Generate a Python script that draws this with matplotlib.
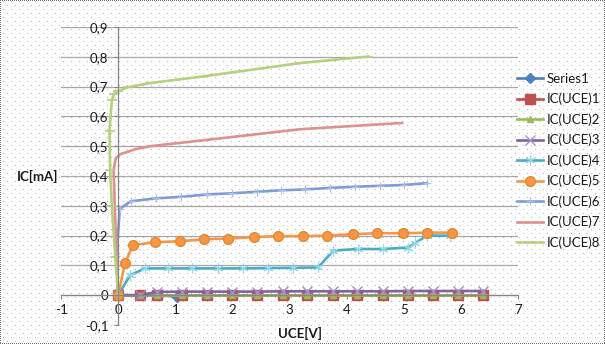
import numpy as np
import matplotlib
matplotlib.use('Agg')
import matplotlib.pyplot as plt
from matplotlib.ticker import FuncFormatter, MultipleLocator

plt.rcParams['font.family'] = ['Lato', 'DejaVu Sans']
plt.rcParams['axes.unicode_minus'] = False

# measured collector characteristics, UCE in V, IC in mA
s1_x = [0, 0.38, 0.68, 1.03]
s1_y = [0, 0, 0, -0.005]

grid_x = [0, 0.38, 0.68, 1.12, 1.56, 2.0, 2.43, 2.88, 3.31, 3.77, 4.19, 4.64, 5.08, 5.52, 5.95, 6.39]
ic1_y = [0] * 16
ic2_y = [0.001] * 16
ic3_y = [0, 0, 0.011, 0.012, 0.012, 0.012, 0.012, 0.013, 0.013, 0.013, 0.013, 0.013, 0.014, 0.014, 0.014, 0.014]

ic4_x = [0, 0.21, 0.47, 0.88, 1.3, 1.75, 2.19, 2.63, 3.07, 3.5, 3.77, 4.2, 4.64, 5.08, 5.2, 5.41, 5.81]
ic4_y = [0, 0.067, 0.09, 0.09, 0.09, 0.09, 0.09, 0.091, 0.092, 0.093, 0.15, 0.155, 0.155, 0.16, 0.175, 0.2, 0.2]

ic5_x = [0, 0.12, 0.26, 0.65, 1.09, 1.51, 1.93, 2.37, 2.79, 3.24, 3.66, 4.12, 4.54, 4.99, 5.41, 5.85]
ic5_y = [0, 0.107, 0.168, 0.178, 0.181, 0.188, 0.19, 0.195, 0.198, 0.198, 0.2, 0.205, 0.208, 0.208, 0.21, 0.21]

ic6_x = [0, -0.03, 0.03, 0.22, 0.66, 1.1, 1.55, 1.99, 2.43, 2.85, 3.27, 3.71, 4.15, 4.59, 5.0, 5.41]
ic6_y = [0, 0.13, 0.29, 0.315, 0.325, 0.33, 0.338, 0.342, 0.347, 0.352, 0.355, 0.36, 0.364, 0.367, 0.37, 0.376]

ic7_x = [0, -0.04, -0.08, -0.04, 0.035, 0.18, 0.3, 0.56, 1.5, 3.19, 4.97]
ic7_y = [0, 0.2, 0.42, 0.46, 0.473, 0.482, 0.49, 0.5, 0.52, 0.557, 0.578]

ic8_x = [0, -0.05, -0.11, -0.14, -0.15, -0.11, -0.07, 0.0, 0.17, 0.56, 1.44, 3.19, 4.38]
ic8_y = [0, 0.128, 0.3, 0.42, 0.55, 0.655, 0.675, 0.685, 0.698, 0.712, 0.733, 0.779, 0.801]

W, H = 605, 344
fig = plt.figure(figsize=(W / 100, H / 100), dpi=100)

# dotted chart-area texture and dashed outer border
bg = np.ones((H, W, 3))
for j in range(1, H, 4):
    off = 3 if (j // 4) % 2 == 0 else 7
    bg[j, off::8] = 0.72
edge = (np.arange(W) % 2 == 0)
bg[0, edge] = 0.45
bg[-1, edge] = 0.45
edge_v = (np.arange(H) % 2 == 0)
bg[edge_v, 0] = 0.45
bg[edge_v, -1] = 0.45
fig.figimage(bg, xo=0, yo=0, origin='upper', zorder=0)

ax = fig.add_axes([61 / W, 19 / H, 457 / W, 298 / H], zorder=1)
ax.patch.set_alpha(0)
ax.set_xlim(-1, 7)
ax.set_ylim(-0.1, 0.9)
ax.xaxis.set_major_locator(MultipleLocator(1))
ax.yaxis.set_major_locator(MultipleLocator(0.1))
ax.yaxis.set_major_formatter(FuncFormatter(
    lambda v, p: '0' if abs(v) < 1e-9 else f'{v:.1f}'.replace('.', ',')))
ax.grid(axis='y', color='#A6A6A6', lw=0.9)
ax.set_axisbelow(True)
for s in ('top', 'right'):
    ax.spines[s].set_visible(False)
for s in ('left', 'bottom'):
    ax.spines[s].set_position(('data', 0))
    ax.spines[s].set_color('#868686')
    ax.spines[s].set_linewidth(0.9)
ax.tick_params(length=3, width=0.8, color='#868686', labelsize=9.5,
               labelcolor='#1a1a1a')
ax.tick_params(axis='x', pad=3)
ax.tick_params(axis='y', pad=4)

lw = 1.9
ax.plot(s1_x, s1_y, color='#4F81BD', lw=lw, marker='D', ms=5, label='Series1')
ax.plot(grid_x, ic1_y, color='#C0504D', lw=lw, marker='s', ms=6.5, label='IC(UCE)1')
ax.plot(grid_x, ic2_y, color='#9BBB59', lw=lw, marker='^', ms=5, label='IC(UCE)2')
ax.plot(grid_x, ic3_y, color='#8064A2', lw=lw, marker='x', ms=6.5, mew=1,
        mec='#A58FC4', label='IC(UCE)3')
ax.plot(ic4_x, ic4_y, color='#4BACC6', lw=lw, marker=(6, 2, 0), ms=7, mew=0.8,
        markeredgecolor='#93D8EA', label='IC(UCE)4')
ax.plot(ic5_x, ic5_y, color='#F79646', lw=lw, marker='o', ms=7, mec='#E3892F', label='IC(UCE)5')
ax.plot(ic6_x, ic6_y, color='#7F9CD9', lw=lw, marker='+', ms=6, mew=0.8,
        mec='#A9C0F0', label='IC(UCE)6')
ax.plot(ic7_x, ic7_y, color='#E0908D', lw=lw, label='IC(UCE)7')
ax.plot(ic8_x, ic8_y, color='#B5D07E', lw=lw, marker='_', ms=7, mew=1.2,
        label='IC(UCE)8')

ax.legend(loc='upper left', bbox_to_anchor=(517 / W, 1 - 73 / H),
          bbox_transform=fig.transFigure, frameon=False, fontsize=9.5,
          borderpad=0, borderaxespad=0, handlelength=2.0, handletextpad=0.25,
          labelspacing=0.6, labelcolor='#1a1a1a')

fig.text(38 / W, 1 - 176 / H, 'IC[mA]', ha='center', va='center',
         fontsize=9.5, weight='bold', color='#1a1a1a')
fig.text(300 / W, 1 - 333 / H, 'UCE[V]', ha='center', va='center',
         fontsize=9.5, weight='bold', color='#1a1a1a')

fig.savefig('out.png', dpi=100)
